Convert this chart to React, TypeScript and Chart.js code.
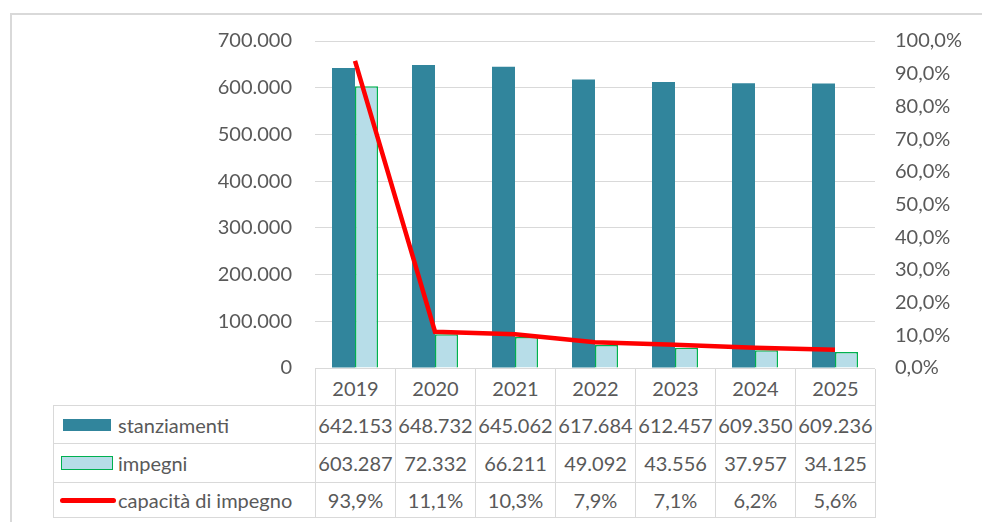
import React, { useEffect, useRef } from "react";
import { Chart, registerables } from "chart.js";

Chart.register(...registerables);

const categories = ["2019", "2020", "2021", "2022", "2023", "2024", "2025"];
const stanziamenti = [642153, 648732, 645062, 617684, 612457, 609350, 609236];
const impegni = [603287, 72332, 66211, 49092, 43556, 37957, 34125];
const capacita = [93.9, 11.1, 10.3, 7.9, 7.1, 6.2, 5.6];
const seriesNames = ["stanziamenti", "impegni", "capacità di impegno"];

const leftMax = 700000;
const leftStep = 100000;
const rightMax = 100;
const rightStep = 10;

const TEAL = "#31859C";
const LIGHT = "#B7DDE8";
const GREEN = "#00B050";
const RED = "#FF0000";
const GRID = "#D9D9D9";
const TEXT = "#595959";
const FONT = "Lato, 'Open Sans', sans-serif";
const FSIZE = 20;

const fmtThousands = (n: number) =>
  Math.round(n).toString().replace(/\B(?=(\d{3})+(?!\d))/g, ".");
const fmtPct = (v: number) => v.toFixed(1).replace(".", ",") + "%";

// layout constants
const W = 982;
const CANVAS_H = 420;
const AREA_LEFT = 315;
const AREA_RIGHT = 875;
const AREA_TOP = 41;
const AREA_BOTTOM = 368;
const TABLE_LEFT = 53;
const COL_W = (AREA_RIGHT - AREA_LEFT) / categories.length;
const ROW_TOPS = [368, 405, 443, 482, 517];

export default function App() {
  const ref = useRef<HTMLCanvasElement | null>(null);

  useEffect(() => {
    if (!ref.current) return;
    const chart = new Chart(ref.current, {
      type: "bar",
      data: {
        labels: categories,
        datasets: [
          {
            type: "line",
            label: seriesNames[2],
            data: capacita,
            yAxisID: "y1",
            borderColor: RED,
            backgroundColor: RED,
            borderWidth: 4.5,
            pointRadius: 0,
            tension: 0,
            order: 0,
          } as any,
          {
            type: "bar",
            label: seriesNames[0],
            data: stanziamenti,
            yAxisID: "y",
            backgroundColor: TEAL,
            borderWidth: 0,
            categoryPercentage: 0.575,
            barPercentage: 1,
            order: 1,
          },
          {
            type: "bar",
            label: seriesNames[1],
            data: impegni,
            yAxisID: "y",
            backgroundColor: LIGHT,
            borderColor: GREEN,
            borderWidth: 1.5,
            categoryPercentage: 0.575,
            barPercentage: 1,
            order: 1,
          },
        ],
      },
      options: {
        responsive: false,
        animation: false,
        devicePixelRatio: 1,
        layout: {
          padding: {
            left: 0,
            right: 0,
            top: AREA_TOP,
            bottom: CANVAS_H - AREA_BOTTOM,
          },
        },
        plugins: {
          legend: { display: false },
          tooltip: { enabled: false },
        },
        scales: {
          x: {
            display: false,
            offset: true,
          },
          y: {
            position: "left",
            min: 0,
            max: leftMax,
            afterFit: (s: any) => {
              s.width = AREA_LEFT;
            },
            border: { display: false },
            grid: { color: GRID, lineWidth: 1, drawTicks: false },
            ticks: {
              stepSize: leftStep,
              padding: 23,
              color: TEXT,
              font: { family: FONT, size: FSIZE },
              callback: (v: any) => (Number(v) === 0 ? "0" : fmtThousands(Number(v))),
            },
          },
          y1: {
            position: "right",
            min: 0,
            max: rightMax,
            afterFit: (s: any) => {
              s.width = W - AREA_RIGHT;
            },
            border: { display: false },
            grid: { display: false, drawTicks: false },
            ticks: {
              stepSize: rightStep,
              padding: 20,
              color: TEXT,
              font: { family: FONT, size: FSIZE },
              callback: (v: any) => fmtPct(Number(v)),
            },
          },
        },
      },
    } as any);
    // fine-tune the plot area so it lines up with the data table
    for (let k = 0; k < 3; k++) {
      const ca = chart.chartArea;
      const pad = (chart.options as any).layout.padding;
      const dTop = AREA_TOP - ca.top;
      const dBottom = ca.bottom - AREA_BOTTOM;
      if (Math.abs(dTop) < 0.5 && Math.abs(dBottom) < 0.5) break;
      pad.top = Math.max(0, pad.top + dTop);
      pad.bottom = Math.max(0, pad.bottom + dBottom);
      chart.update();
    }
    return () => chart.destroy();
  }, []);

  const cellBase: React.CSSProperties = {
    position: "absolute",
    boxSizing: "border-box",
    display: "flex",
    alignItems: "center",
    justifyContent: "center",
    color: TEXT,
    fontFamily: FONT,
    fontSize: FSIZE,
    whiteSpace: "nowrap",
    background: "#fff",
  };

  const rows = [
    stanziamenti.map(fmtThousands),
    impegni.map(fmtThousands),
    capacita.map(fmtPct),
  ];

  const keys = [
    <div style={{ width: 48, height: 12, background: TEAL, marginLeft: 9, marginRight: 7, flex: "none" }} />,
    <div
      style={{
        width: 52,
        height: 14,
        background: LIGHT,
        border: `1.5px solid ${GREEN}`,
        boxSizing: "border-box",
        marginLeft: 7,
        marginRight: 5,
        flex: "none",
      }}
    />,
    <div
      style={{
        width: 56,
        height: 5,
        background: RED,
        borderRadius: 3,
        marginLeft: 6,
        marginRight: 2,
        flex: "none",
      }}
    />,
  ];

  const cells: React.ReactNode[] = [];
  categories.forEach((c, i) => {
    cells.push(
      <div
        key={"h" + i}
        style={{
          ...cellBase,
          left: AREA_LEFT + i * COL_W,
          top: ROW_TOPS[0] + 1,
          width: COL_W + 1,
          height: ROW_TOPS[1] - ROW_TOPS[0],
          borderLeft: `1px solid ${GRID}`,
          borderRight: `1px solid ${GRID}`,
        }}
      >
        {c}
      </div>
    );
  });
  rows.forEach((vals, r) => {
    const top = ROW_TOPS[r + 1];
    const h = ROW_TOPS[r + 2] - top + 1;
    cells.push(
      <div
        key={"l" + r}
        style={{
          ...cellBase,
          justifyContent: "flex-start",
          left: TABLE_LEFT,
          top,
          width: AREA_LEFT - TABLE_LEFT + 1,
          height: h,
          border: `1px solid ${GRID}`,
        }}
      >
        {keys[r]}
        <span>{seriesNames[r]}</span>
      </div>
    );
    vals.forEach((v, i) => {
      cells.push(
        <div
          key={"c" + r + "_" + i}
          style={{
            ...cellBase,
            left: AREA_LEFT + i * COL_W,
            top,
            width: COL_W + 1,
            height: h,
            border: `1px solid ${GRID}`,
          }}
        >
          {v}
        </div>
      );
    });
  });

  return (
    <div
      style={{
        position: "absolute",
        left: 0,
        top: 0,
        width: W,
        height: 522,
        background: "#fff",
        overflow: "hidden",
      }}
    >
      <div
        style={{
          position: "absolute",
          left: 10,
          top: 13,
          width: W,
          height: 600,
          borderTop: `2px solid ${GRID}`,
          borderLeft: `2px solid ${GRID}`,
        }}
      />
      <canvas
        ref={ref}
        width={W}
        height={CANVAS_H}
        style={{ position: "absolute", left: 0, top: 0, width: W, height: CANVAS_H }}
      />
      {cells}
    </div>
  );
}
